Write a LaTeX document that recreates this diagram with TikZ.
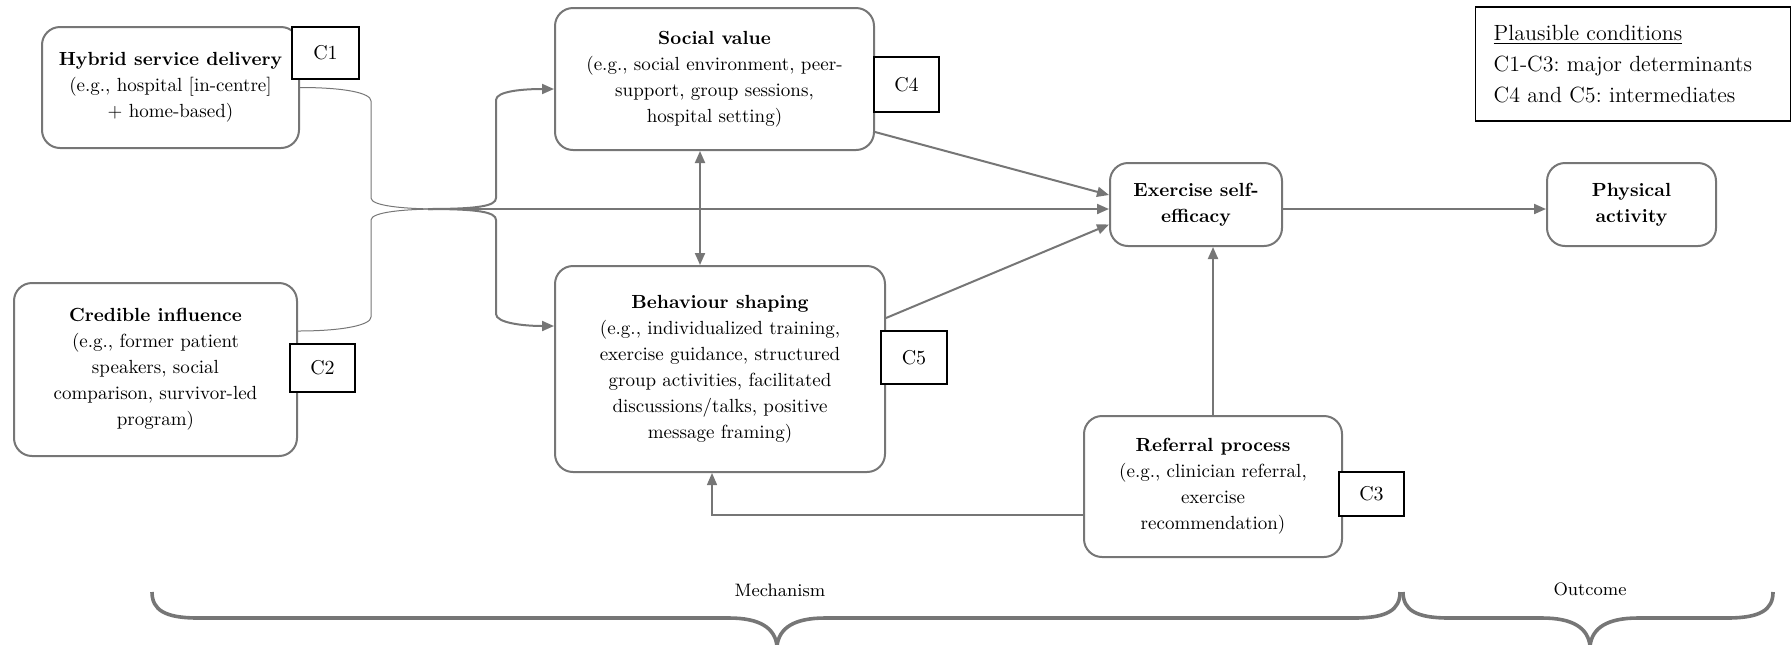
\documentclass[tikz,border=0pt]{standalone}
\usetikzlibrary{arrows.meta,calc}
\definecolor{ln}{HTML}{767676}
\frenchspacing
\tikzset{
 box/.style={draw=ln, line width=1pt, rounded corners=9pt, align=center, inner sep=0pt, fill=white, font=\fontsize{9.5}{13}\selectfont},
 cbox/.style={draw=black, line width=0.7pt, inner sep=0pt, fill=white, font=\fontsize{10}{12}\selectfont},
 conn/.style={draw=ln, line width=1pt},
 thinconn/.style={draw=ln, line width=0.5pt},
 arr/.style={-{Triangle[length=6pt,width=5pt]}},
 darr/.style={{Triangle[length=6pt,width=5pt]}-{Triangle[length=6pt,width=5pt]}},
 brace/.style={draw=ln, line width=1.8pt, line join=round},
 lbl/.style={font=\fontsize{9}{11}\selectfont}
}
\begin{document}
\begin{tikzpicture}[x=0.5pt,y=-0.5pt]
\useasboundingbox (0,0) rectangle (1791,644);
% main boxes
\node[box, minimum width=128.5pt, minimum height=60.5pt] (hyb) at (170.5,87.5) {\textbf{Hybrid service delivery}\\(e.g., hospital [in-centre]\\+ home-based)};
\node[box, minimum width=141.5pt, minimum height=86.5pt] (cred) at (155.5,369.5) {\textbf{Credible influence}\\(e.g., former patient\\speakers, social\\comparison, survivor-led\\program)};
\node[box, minimum width=159.5pt, minimum height=71pt] (soc) at (714.5,79) {\textbf{Social value}\\(e.g., social environment, peer-\\support, group sessions,\\hospital setting)};
\node[box, minimum width=165pt, minimum height=103pt] (beh) at (720,369) {\textbf{Behaviour shaping}\\(e.g., individualized training,\\exercise guidance, structured\\group activities, facilitated\\discussions/talks, positive\\message framing)};
\node[box, minimum width=86pt, minimum height=41.5pt] (exe) at (1196,204.5) {\textbf{Exercise self-}\\\textbf{efficacy}};
\node[box, minimum width=84.5pt, minimum height=41.5pt] (phy) at (1631.5,204.5) {\textbf{Physical}\\\textbf{activity}};
\node[box, minimum width=129pt, minimum height=70.5pt] (ref) at (1213,486.5) {\textbf{Referral process}\\(e.g., clinician referral,\\exercise\\recommendation)};
% condition boxes
\node[cbox, minimum width=33.5pt, minimum height=26pt] (c1) at (325.5,53) {C1};
\node[cbox, minimum width=32.5pt, minimum height=24pt] (c2) at (322.5,368) {C2};
\node[cbox, minimum width=32.5pt, minimum height=27.5pt] (c4) at (906.5,84.5) {C4};
\node[cbox, minimum width=33pt, minimum height=26.5pt] (c5) at (914,357.5) {C5};
\node[cbox, minimum width=32.5pt, minimum height=22pt] (c3) at (1371.5,494) {C3};
% legend
\node[draw=black, line width=0.7pt, anchor=west, minimum width=157.5pt, minimum height=57pt, inner xsep=9pt, inner ysep=0pt, text width=139.5pt, align=left, font=\fontsize{11}{15.5}\selectfont] (leg) at (1475,64) {\underline{Plausible conditions}\\C1-C3: major determinants\\C4 and C5: intermediates};
% junction
\coordinate (j) at (428,209);
\coordinate (k) at (440,209);
\draw[thinconn] (hyb.east) .. controls +(45,0) and +(0,-8) .. (371,101) -- (371,198) .. controls +(0,8) and +(-35,0) .. (k);
\draw[thinconn] ([yshift=19.25pt]cred.east) .. controls +(45,0) and +(0,8) .. (371,317) -- (371,220) .. controls +(0,-8) and +(-35,0) .. (k);
\coordinate (sa) at ([yshift=-5pt]soc.west);
\coordinate (ba) at ([yshift=21.5pt]beh.west);
\draw[conn, arr] (j) .. controls +(50,0) and +(0,8) .. (496,198) -- (496,100) .. controls +(0,-9) and +(-30,0) .. (sa);
\draw[conn, arr] (j) .. controls +(50,0) and +(0,-8) .. (496,220) -- (496,314) .. controls +(0,9) and +(-30,0) .. (ba);
\draw[conn, arr] (j) -- (j -| exe.west);
\draw[conn, arr] ([yshift=9.5pt]soc.south east) -- ([yshift=4.75pt]exe.west);
\draw[conn, arr] ([yshift=25.5pt]beh.east) -- ([yshift=-10pt]exe.west);
\draw[conn, arr] (exe.east |- j) -- (phy.west |- j);
\draw[conn, darr] ([xshift=-7.25pt]soc.south) -- ([xshift=-7.25pt]soc.south |- beh.north);
\draw[conn, arr] (ref.north) -- (ref.north |- exe.south);
\draw[conn, line width=0.7pt, arr] ([yshift=-14.25pt]ref.west) -| ([xshift=-4pt]beh.south);
% braces
\draw[brace] (152,592) .. controls (152,610) and (165,618) .. (198,618) -- (729,618) .. controls (760,618) and (775,628) .. (777,646) .. controls (779,628) and (794,618) .. (825,618) -- (1354,618) .. controls (1387,618) and (1400,610) .. (1400,592);
\draw[brace] (1403,592) .. controls (1403,610) and (1416,618) .. (1449,618) -- (1542,618) .. controls (1573,618) and (1588,628) .. (1590,646) .. controls (1592,628) and (1607,618) .. (1638,618) -- (1727,618) .. controls (1760,618) and (1773,610) .. (1773,592);
\node[lbl] (mech) at (780,590) {Mechanism};
\node[lbl] (outc) at (1590,589) {Outcome};
\end{tikzpicture}
\end{document}
